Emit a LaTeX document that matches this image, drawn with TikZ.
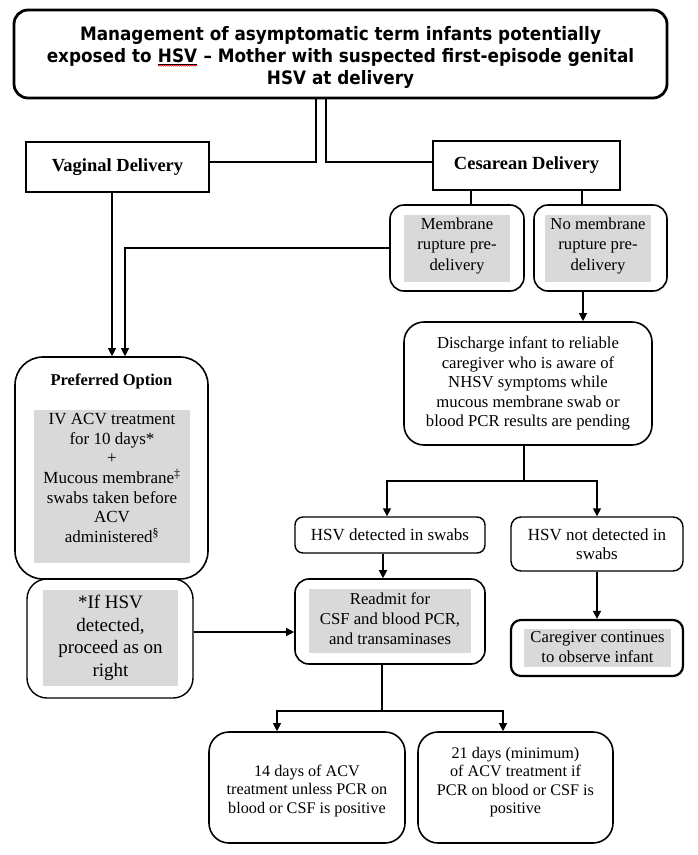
\documentclass[tikz,border=0pt]{standalone}
\usepackage{fontspec}
\setmainfont{Liberation Serif}
\newfontfamily\titlefont{DejaVu Sans}[FakeStretch=0.91]
\usetikzlibrary{arrows.meta,decorations.pathmorphing}
\definecolor{boxgray}{HTML}{D9D9D9}
\newcommand{\spellmark}[1]{\tikz[baseline=(sm.base)]{\node[inner sep=0pt] (sm) {\underline{#1}};
  \draw[red, line width=0.5pt, decorate, decoration={zigzag, segment length=2pt, amplitude=0.6pt}] ([yshift=-3.2pt]sm.base west) -- ([yshift=-3.2pt]sm.base east);}}
\begin{document}
\begin{tikzpicture}[x=1pt,y=-1pt,
  rbox/.style={draw, line width=1.6pt, inner sep=0pt, align=center},
  sqbox/.style={draw, line width=1.5pt, inner sep=0pt, align=center},
  graybox/.style={fill=boxgray, inner sep=0pt, align=center},
  conn/.style={line width=1.1pt},
  arr/.style={line width=1.1pt, -{Triangle[length=8pt,width=8pt]}},
  body/.style={font=\fontsize{16.7}{19.5}\selectfont, align=center, inner sep=0pt}]
\useasboundingbox (0,0) rectangle (697,855);
\fill[white] (0,0) rectangle (697,855);

% title
\node[rbox, line width=2.8pt, rounded corners=14pt, minimum width=653pt, minimum height=88pt] (title) at (340.5,54) {};
\node[inner sep=0pt, align=center, font=\titlefont\bfseries\fontsize{18.5}{22}\selectfont] (titletext) at (340.5,57.5)
  {Management of asymptomatic term infants potentially\\
   exposed to \spellmark{HSV} – Mother with suspected first-episode genital\\
   HSV at delivery};

% delivery boxes
\node[sqbox, minimum width=183pt, minimum height=50pt, font=\bfseries\fontsize{18.5}{20}\selectfont] (vag) at (117.5,167) {Vaginal Delivery};
\node[sqbox, minimum width=187pt, minimum height=49pt, font=\bfseries\fontsize{18.5}{20}\selectfont] (ces) at (526.5,165.5) {Cesarean Delivery};

\draw[conn, line width=1.5pt] ([xshift=-24.5pt]title.south) |- ([yshift=5pt]vag.east);
\draw[conn, line width=1.5pt] ([xshift=-14.5pt]title.south) |- ([yshift=3.5pt]ces.west);

% membrane boxes
\node[rbox, rounded corners=14pt, minimum width=134pt, minimum height=86pt] (mem) at (457,248) {};
\node[graybox, minimum width=106pt, minimum height=67pt] (memg) at (457,248.5) {};
\node[body, font=\fontsize{16.7}{20.5}\selectfont] (memt) at (457,246) {Membrane\\rupture pre-\\delivery};
\node[rbox, rounded corners=14pt, minimum width=133pt, minimum height=86pt] (nomem) at (600.5,248) {};
\node[graybox, minimum width=106pt, minimum height=67pt] (nomemg) at (598,248.5) {};
\node[body, font=\fontsize{16.7}{20.5}\selectfont] (nomemt) at (598,246) {No membrane\\rupture pre-\\delivery};

\draw[conn, line width=1.5pt] ([xshift=-55.5pt]ces.south) -- ([xshift=-55.5pt]ces.south |- mem.north);
\draw[conn, line width=1.5pt] ([xshift=55.5pt]ces.south) -- ([xshift=55.5pt]ces.south |- nomem.north);

% preferred option
\node[rbox, rounded corners=28pt, minimum width=193pt, minimum height=222pt] (pref) at (111.5,468) {};
\node[inner sep=0pt, font=\bfseries\fontsize{16.5}{20}\selectfont] (preft) at (111.5,381) {Preferred Option};
\node[graybox, minimum width=156pt, minimum height=153pt] (prefg) at (112,486.5) {};
\node[body, font=\fontsize{17}{19.6}\selectfont] (prefgt) at (112,478)
  {IV ACV treatment\\for 10 days*\\+\\Mucous membrane\textsuperscript{‡}\\swabs taken before\\ACV\\administered\textsuperscript{§}};

\draw[arr] ([xshift=-5.5pt]vag.south) -- ([xshift=-5.5pt]vag.south |- pref.north);
\draw[arr] (mem.west) -| ([xshift=13.5pt]pref.north);

% if HSV box
\node[rbox, line width=1.4pt, rounded corners=20pt, minimum width=166pt, minimum height=119pt] (ifbox) at (110,638.5) {};
\node[graybox, minimum width=135pt, minimum height=96pt] (ifg) at (110.5,638) {};
\node[body, font=\fontsize{19}{22.7}\selectfont] (ift) at (110.5,638) {*If HSV\\detected,\\proceed as on\\right};

% discharge
\node[rbox, rounded corners=20pt, minimum width=248pt, minimum height=123pt, body] (disc) at (528,383.5)
  {Discharge infant to reliable\\caregiver who is aware of\\NHSV symptoms while\\mucous membrane swab or\\blood PCR results are pending};
\draw[arr] ([xshift=-17.5pt]nomem.south) -- ([xshift=-17.5pt]nomem.south |- disc.north);

% HSV detected / not detected
\node[rbox, line width=1.4pt, rounded corners=8pt, minimum width=190pt, minimum height=36pt, body, font=\fontsize{17}{19.5}\selectfont] (hsvd) at (390,535) {HSV detected in swabs};
\node[rbox, line width=1.4pt, rounded corners=10pt, minimum width=172pt, minimum height=54pt, body, font=\fontsize{17}{19.5}\selectfont] (hsvn) at (597,544) {HSV not detected in\\swabs};

\coordinate (j1) at (524,481);
\draw[conn, line width=1.5pt] ([xshift=-4pt]disc.south) -- (j1);
\draw[arr, line width=1.5pt] (j1) -| ([xshift=-3pt]hsvd.north);
\draw[arr, line width=1.5pt] (j1) -| (hsvn.north);

% readmit
\node[rbox, rounded corners=14pt, minimum width=190pt, minimum height=85pt] (readm) at (390,621.5) {};
\node[graybox, minimum width=162pt, minimum height=64pt] (readg) at (390,621) {};
\node[body, font=\fontsize{16.7}{20}\selectfont] (readt) at (390,619) {Readmit for\\CSF and blood PCR,\\and transaminases};
\draw[arr, line width=1.5pt] ([xshift=-7pt]hsvd.south) -- ([xshift=-7pt]hsvd.south |- readm.north);

% caregiver
\node[rbox, line width=2.2pt, rounded corners=10pt, minimum width=172pt, minimum height=56pt] (care) at (597,648) {};
\node[graybox, minimum width=147pt, minimum height=38pt] (careg) at (597.5,648) {};
\node[body, font=\fontsize{16.7}{20}\selectfont] (caret) at (597.5,647) {Caregiver continues\\to observe infant};
\draw[arr, line width=1.5pt] (hsvn.south) -- (care.north);

% if -> readmit
\draw[arr] ([yshift=6.5pt]ifbox.east) -- ([yshift=6.5pt]ifbox.east -| readm.west);

% bottom boxes
\node[rbox, rounded corners=20pt, minimum width=196pt, minimum height=111pt] (b14) at (307,787.5) {};
\node[body, font=\fontsize{16.2}{18.5}\selectfont] (b14t) at (307,791) {14 days of ACV\\treatment unless PCR on\\blood or CSF is positive};
\node[rbox, rounded corners=20pt, minimum width=195pt, minimum height=111pt] (b21) at (515.5,787.5) {};
\node[body, font=\fontsize{16.2}{18.5}\selectfont] (b21t) at (515.5,782) {21 days (minimum)\\of ACV treatment if\\PCR on blood or CSF is\\positive};

\coordinate (j2) at (382,711);
\draw[conn, line width=1.5pt] ([xshift=-8pt]readm.south) -- (j2);
\draw[arr] (j2) -| ([xshift=-30pt]b14.north);
\draw[arr] (j2) -| ([xshift=-12.5pt]b21.north);
\end{tikzpicture}
\end{document}
